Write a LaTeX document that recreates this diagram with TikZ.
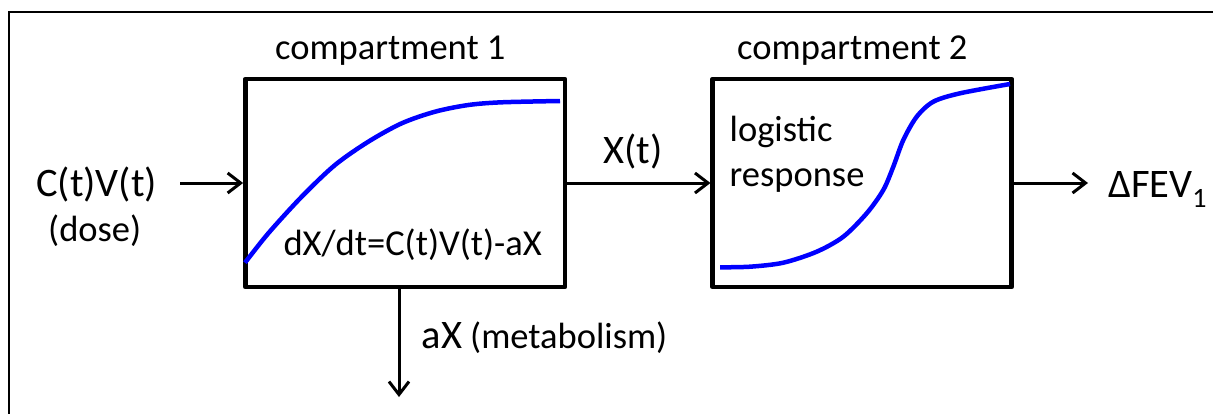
\documentclass[tikz,border=0pt]{standalone}
\usepackage{fontspec}
\setmainfont{Carlito}
\usetikzlibrary{arrows.meta}
\begin{document}
\begin{tikzpicture}[x=1pt,y=-1pt,
  compbox/.style={draw=black,line width=4.5pt,minimum height=208pt,inner sep=0pt,line join=round},
  flow/.style={line width=3pt,-{Straight Barb[length=13pt,width=20pt,line width=3pt]}},
  curve/.style={draw=blue,line width=4.5pt},
  txt/.style={anchor=base west,inner sep=0pt,font=\fontsize{36.5}{44}\selectfont},
  bigtxt/.style={anchor=base west,inner sep=0pt,font=\fontsize{40.5}{48}\selectfont}]
\useasboundingbox (0,0) rectangle (1213,413);
\clip (0,0) rectangle (1213,413);
% outer frame (partly off the page)
\draw[line width=2.2pt] (9,430) -- (9,12) -- (1230,12);
% compartments
\node[compbox,minimum width=319.7pt] (box1) at (405.2,183) {};
\node[compbox,minimum width=299pt] (box2) at (862.2,183) {};
% curves
\draw[curve] plot[smooth] coordinates {(245,262.7) (268.3,233.3) (301.7,196.7) (335,165) (368.3,141.7) (401.7,123.3) (435,111.7) (468.3,105) (501.7,102.3) (560,101)};
\draw[curve] plot[smooth] coordinates {(720,267.3) (750,266.7) (783.3,262.7) (816.7,251.7) (843.3,236.7) (866.7,213.3) (883.3,190) (893.3,166.7) (903.3,140) (916.7,116.7) (933.3,101.7) (960,93.3) (1010,84)};
% texts
\node[txt] (c1) at (275,59) {compartment 1};
\node[txt] (c2) at (737,59) {compartment 2};
\node[bigtxt] (cv) at (36,196) {C(t)V(t)};
\node[txt] (dose) at (48,241.5) {(dose)};
\node[txt] (eq) at (283.3,255) {dX/dt=C(t)V(t)-aX};
\node[bigtxt] (xt) at (603,163.3) {X(t)};
\node[txt] (lg) at (729.5,141.7) {logistic};
\node[txt] (rs) at (729.5,186.7) {response};
\node[bigtxt] (ax) at (421.7,348.3) {aX};
\node[txt] (met) at (470,348.3) {(metabolism)};
\node[bigtxt] (fev) at (1108,197) {ΔFEV\raisebox{-10pt}{\fontsize{28}{30}\selectfont 1}};
% connectors
\coordinate (in) at (180,183);
\coordinate (out) at (1088,183);
\coordinate (dn) at (399,397);
\draw[flow] (in) -- (in -| box1.west);
\draw[flow] (box1.east) -- (box2.west);
\draw[flow] (box2.east) -- (out);
\draw[flow] (box1.south -| dn) -- (dn);
\end{tikzpicture}
\end{document}
